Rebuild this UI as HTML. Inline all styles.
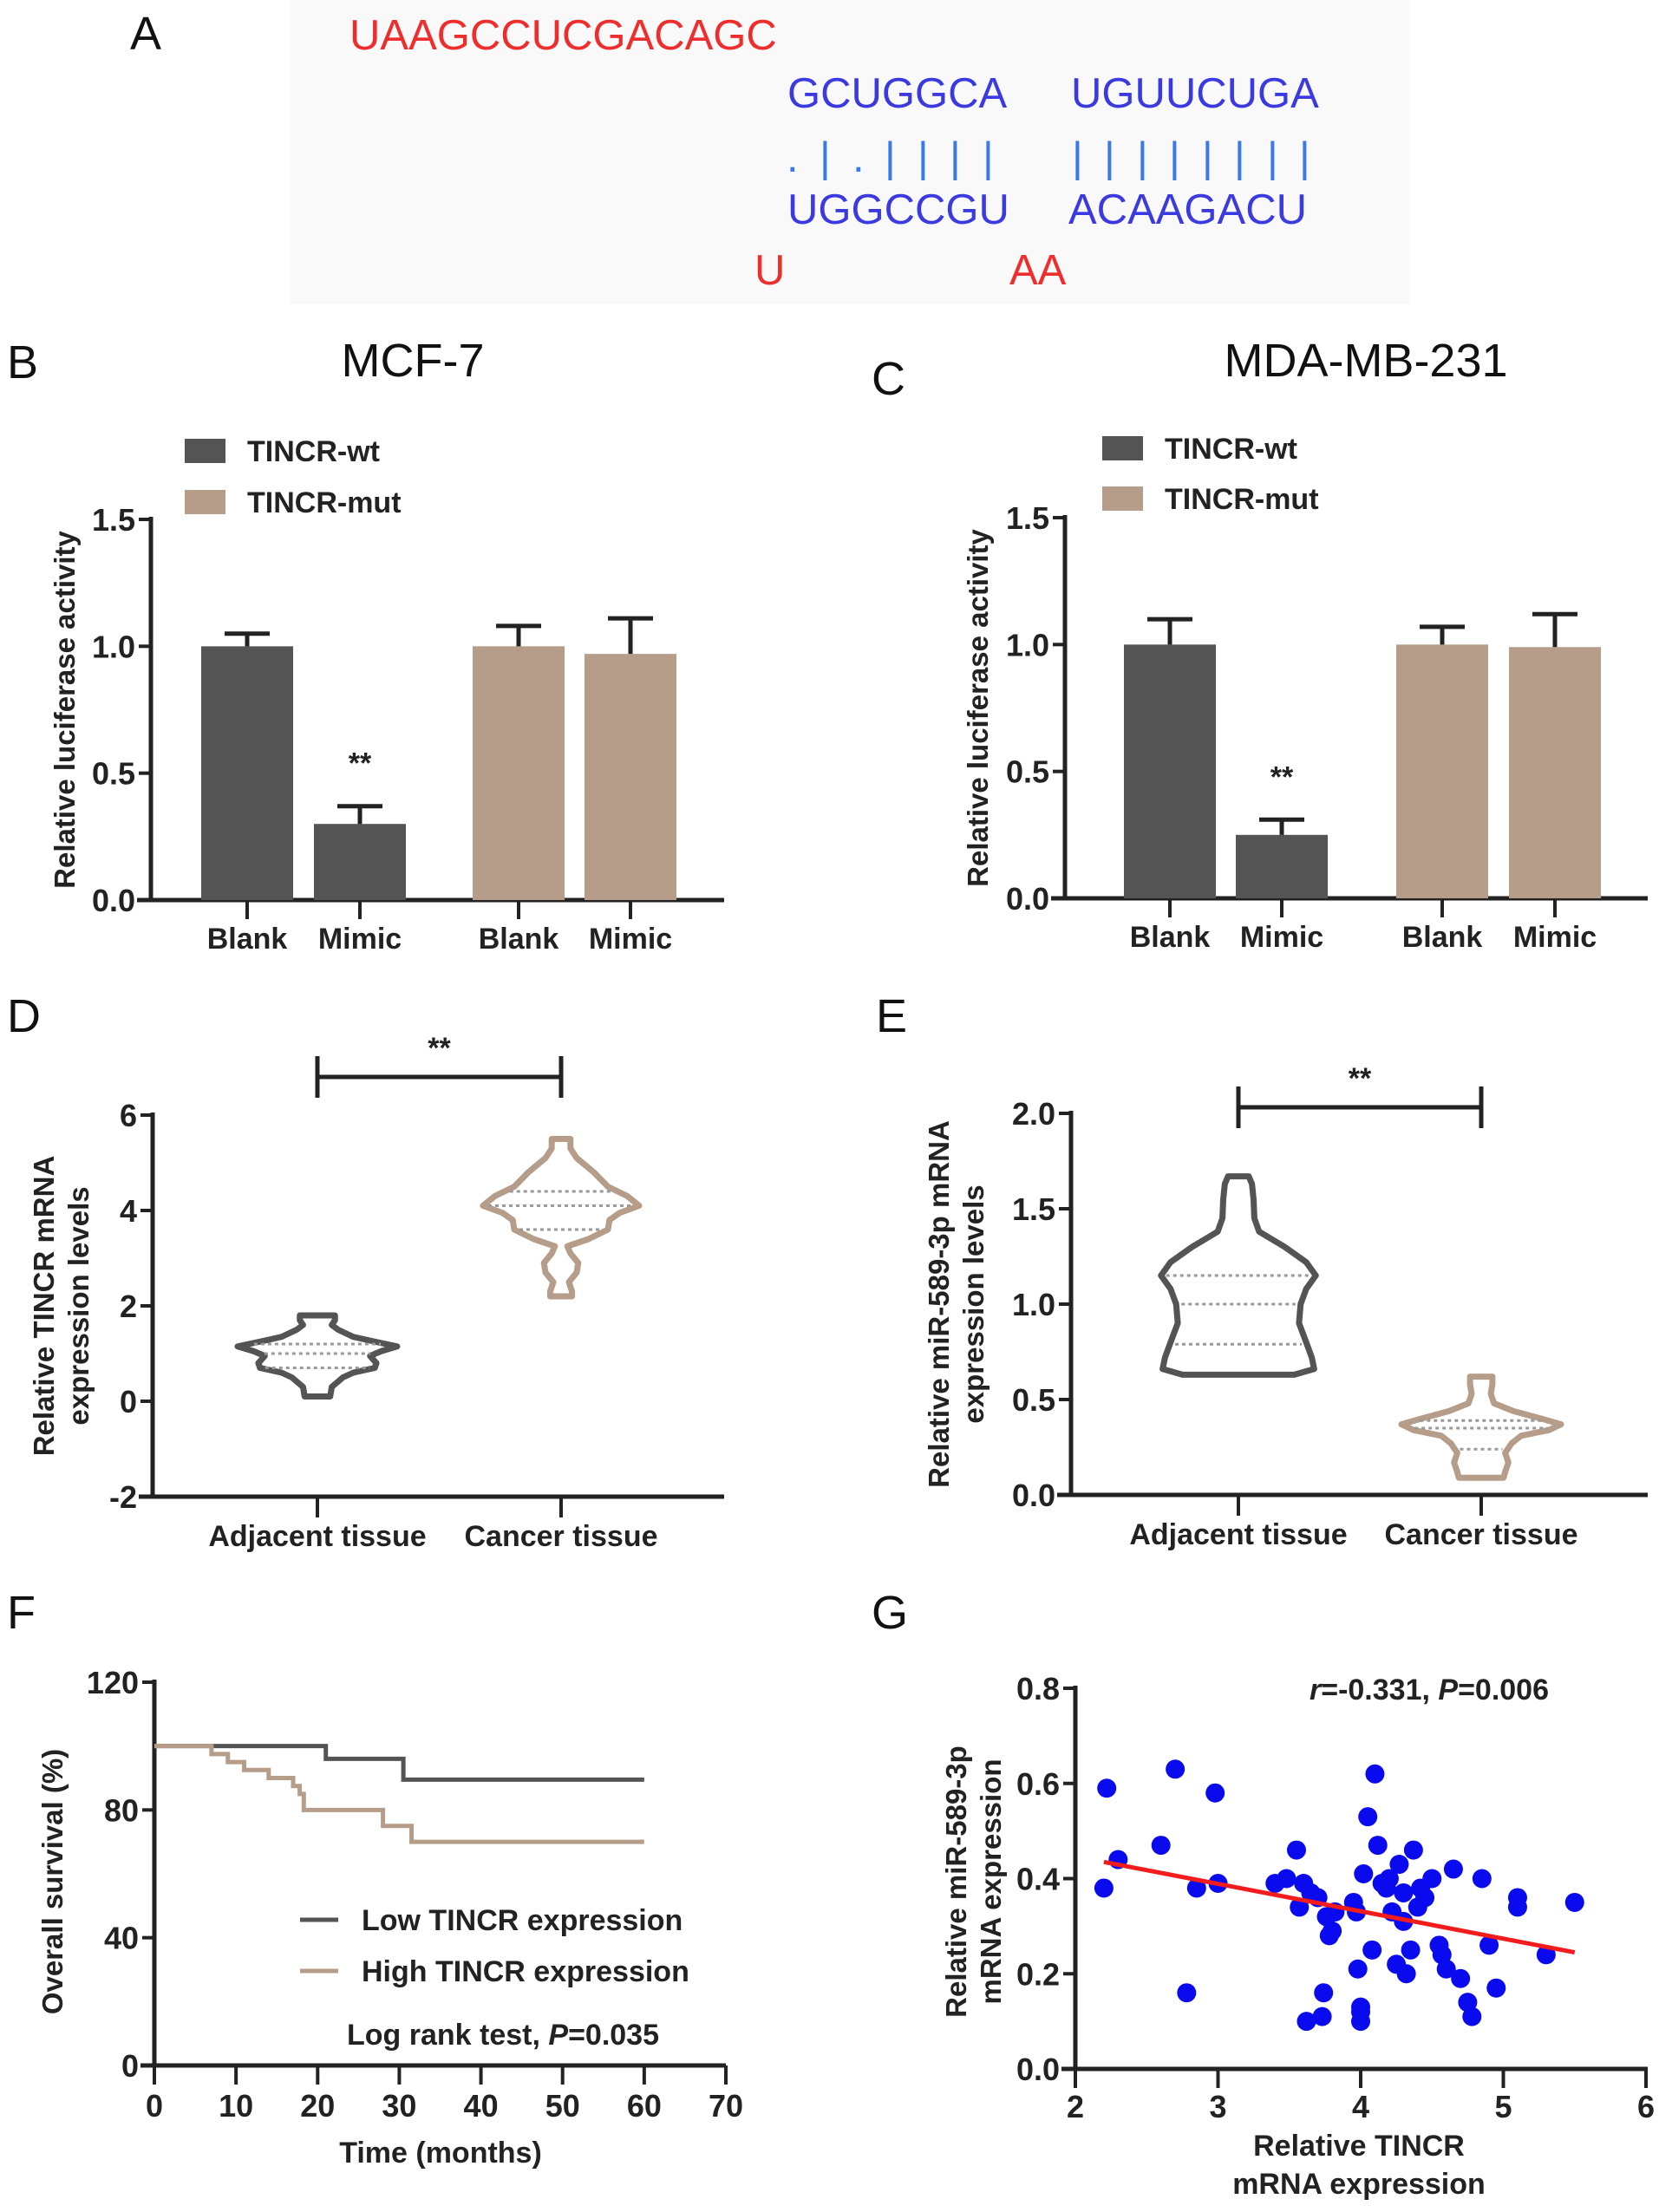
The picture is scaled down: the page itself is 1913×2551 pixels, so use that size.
<!DOCTYPE html>
<html><head><meta charset="utf-8">
<style>
html,body{margin:0;padding:0;background:#fff;}
svg{display:block;font-family:"Liberation Sans Narrow","Liberation Sans",sans-serif;}
.seq{font-family:"Liberation Sans",sans-serif;font-size:49px;}
.panel{font-family:"Liberation Sans",sans-serif;font-size:54px;fill:#111;}
.tick{font-size:36px;font-weight:bold;fill:#222;}
.ttl{font-family:"Liberation Sans",sans-serif;font-size:33px;font-weight:bold;fill:#222;}
.lbl{font-size:34px;font-weight:bold;fill:#222;}
</style></head>
<body>
<svg id="fig" width="1913" height="2551" viewBox="0 0 1913 2551" xmlns="http://www.w3.org/2000/svg">
<rect x="335" y="0" width="1290" height="351" fill="#f9f9f9"/>
<text class="panel" x="150" y="57">A</text>
<text class="seq" x="403" y="57" fill="#ee2d2d">UAAGCCUCGACAGC</text>
<text class="seq" x="908" y="124" fill="#3a3ae0">GCUGGCA</text>
<text class="seq" x="1235" y="124" fill="#3a3ae0">UGUUCUGA</text>
<text class="seq" x="907 945 983 1020 1058 1095 1133" y="198" fill="#3a7ae8">.|.||||</text>
<text class="seq" x="1236 1273 1311 1348 1386 1423 1461 1498" y="198" fill="#3a7ae8">||||||||</text>
<text class="seq" x="908" y="258" fill="#3a3ae0">UGGCCGU</text>
<text class="seq" x="1232" y="258" fill="#3a3ae0">ACAAGACU</text>
<text class="seq" x="870" y="328" fill="#ee2d2d">U</text>
<text class="seq" x="1164" y="328" fill="#ee2d2d">AA</text>

<text class="panel" x="8" y="436">B</text>
<text class="panel" x="476" y="434" font-size="46" text-anchor="middle">MCF-7</text>
<text class="panel" x="1005" y="455">C</text>
<text class="panel" x="1575" y="434" font-size="46" text-anchor="middle">MDA-MB-231</text>
<text class="panel" x="8" y="1190">D</text>
<text class="panel" x="1010" y="1190">E</text>
<text class="panel" x="8" y="1878">F</text>
<text class="panel" x="1005" y="1878">G</text>
<g id="charts"></g>
</svg>
<script>
// ---------- data ----------
const barCats = ["Blank","Mimic","Blank","Mimic"];
const barB = [1.0, 0.30, 1.0, 0.97];
const errB = [0.05, 0.07, 0.08, 0.14];
const barC = [1.0, 0.25, 1.0, 0.99];
const errC = [0.10, 0.06, 0.07, 0.13];
const barTicks = [0, 0.5, 1.0, 1.5];
const barTickLabels = ["0.0","0.5","1.0","1.5"];

const violinCats = ["Adjacent tissue","Cancer tissue"];
const dTicks = [-2,0,2,4,6];
const dAdjVals = [0.1,0.3,0.5,0.6,0.7,0.8,0.95,1.05,1.15,1.25,1.35,1.5,1.6,1.7,1.8];
const dAdjDens = [0.16,0.18,0.32,0.45,0.72,0.74,0.66,0.8,1.0,0.72,0.45,0.26,0.18,0.22,0.22];
const dAdjQ = [0.7,1.0,1.2];
const dCanVals = [2.2,2.3,2.5,2.7,2.9,3.1,3.25,3.4,3.6,3.8,3.95,4.1,4.3,4.5,4.8,5.1,5.3,5.5];
const dCanDens = [0.14,0.14,0.1,0.2,0.22,0.12,0.08,0.35,0.6,0.62,0.75,1.0,0.85,0.6,0.42,0.2,0.12,0.12];
const dCanQ = [3.6,4.1,4.4];
const eTicks = [0,0.5,1.0,1.5,2.0];
const eTickLabels = ["0.0","0.5","1.0","1.5","2.0"];
const eAdjVals = [0.63,0.66,0.72,0.8,0.9,1.0,1.08,1.15,1.22,1.3,1.38,1.45,1.55,1.63,1.67];
const eAdjDens = [0.7,0.95,0.92,0.85,0.76,0.78,0.85,0.97,0.85,0.58,0.26,0.2,0.19,0.17,0.13];
const eAdjQ = [0.79,1.0,1.15];
const eCanVals = [0.09,0.12,0.17,0.22,0.27,0.31,0.34,0.37,0.40,0.44,0.48,0.53,0.58,0.62];
const eCanDens = [0.28,0.3,0.34,0.3,0.38,0.5,0.85,1.0,0.75,0.4,0.16,0.12,0.14,0.14];
const eCanQ = [0.24,0.35,0.39];

const kmTicksY = [0,40,80,120];
const kmTicksX = [0,10,20,30,40,50,60,70];
const lowT = [0,21,30.5,60];
const lowS = [100,96,89.5,89.5];
const highT = [0,7,9,11,14,17,17.8,18.3,28,31.5,60];
const highS = [100,97.5,95,92.5,90,87.5,85,80,75,70,70];

const scTicksY = [0,0.2,0.4,0.6,0.8];
const scTickLabelsY = ["0.0","0.2","0.4","0.6","0.8"];
const scTicksX = [2,3,4,5,6];
const scX = [2.2,2.22,2.3,2.6,2.7,2.78,2.85,2.98,3.0,3.4,3.48,3.55,3.57,3.6,3.62,3.65,3.7,3.73,3.74,3.76,3.78,3.8,3.82,3.95,3.97,3.98,4.0,4.0,4.0,4.02,4.05,4.1,4.12,4.08,4.15,4.18,4.2,4.22,4.25,4.27,4.3,4.3,4.32,4.35,4.37,4.4,4.42,4.45,4.5,4.55,4.57,4.6,4.65,4.7,4.75,4.78,4.85,4.9,4.95,5.1,5.1,5.3,5.5];
const scY = [0.38,0.59,0.44,0.47,0.63,0.16,0.38,0.58,0.39,0.39,0.40,0.46,0.34,0.39,0.10,0.37,0.36,0.11,0.16,0.32,0.28,0.29,0.33,0.35,0.33,0.21,0.13,0.10,0.12,0.41,0.53,0.62,0.47,0.25,0.39,0.38,0.40,0.33,0.22,0.43,0.37,0.31,0.20,0.25,0.46,0.34,0.38,0.36,0.40,0.26,0.24,0.21,0.42,0.19,0.14,0.11,0.40,0.26,0.17,0.36,0.34,0.24,0.35];
const fitX = [2.2,5.5];
const fitY = [0.435,0.245];

// ---------- helpers ----------
const NS="http://www.w3.org/2000/svg";
const root=document.getElementById('charts');
function mk(tag, attrs, parent){const e=document.createElementNS(NS,tag);for(const k in attrs)e.setAttribute(k,attrs[k]);(parent||root).appendChild(e);return e;}
function lin(d0,d1,r0,r1){return v=>r0+(v-d0)*(r1-r0)/(d1-d0);}
const INK="#222", DARK="#545454", TAN="#b59d89";

function yAxis(x,y,ticks,labels,yTop,yBot,name){
  let el=mk('line',{x1:x,y1:yTop-3,x2:x,y2:yBot,stroke:INK,'stroke-width':5});
  
  
  ticks.forEach((t,i)=>{
    let tk=mk('line',{x1:x-14,y1:y(t),x2:x,y2:y(t),stroke:INK,'stroke-width':4});
    
    
    let tl=mk('text',{x:x-18,y:y(t)+13,'text-anchor':'end',class:'tick'});
    tl.textContent=labels?labels[i]:String(t);
    
    
  });
}
function xAxis(x0,x1,y0,name){
  let el=mk('line',{x1:x0-16,y1:y0,x2:x1,y2:y0,stroke:INK,'stroke-width':5});
  
  
}
function rotText(x,y,lines,name){
  lines.forEach((s,i)=>{
    let t=mk('text',{x:0,y:0,class:'ttl','text-anchor':'middle',transform:`translate(${x+i*40},${y}) rotate(-90)`});
    t.textContent=s;
    
    
  });
}

// ---------- bar charts ----------
function barChart(o){
  const y=lin(0,1.5,o.y0,o.y15);
  yAxis(o.ax,y,barTicks,barTickLabels,o.y15,o.y0,o.name);
  xAxis(o.ax,o.axEnd,o.y0,o.name);
  o.vals.forEach((v,i)=>{
    const cx=o.cx[i], col=i<2?DARK:TAN;
    let b=mk('rect',{x:cx-o.bw/2,y:y(v),width:o.bw,height:o.y0-y(v),fill:col});
    
    
    let e=mk('path',{d:`M${cx} ${y(v)} V${y(v+o.err[i])} M${cx-26} ${y(v+o.err[i])} H${cx+26}`,stroke:INK,'stroke-width':5,fill:'none'});
    
    
    let tk=mk('line',{x1:cx,y1:o.y0,x2:cx,y2:o.y0+22,stroke:INK,'stroke-width':4});
    
    
    let l=mk('text',{x:cx,y:o.y0+56,'text-anchor':'middle',class:'lbl'});
    l.textContent=barCats[i];
    
    
  });
  let s=mk('text',{x:o.cx[1],y:y(o.vals[1]+o.err[1])-38,'text-anchor':'middle',class:'lbl','font-size':30});
  s.textContent='**';
  
  
  [["TINCR-wt",DARK,o.lg[1]],["TINCR-mut",TAN,o.lg[2]]].forEach(([t,c,ly])=>{
    let r=mk('rect',{x:o.lg[0],y:ly-14,width:47,height:28,fill:c});
    
    
    let tt=mk('text',{x:o.lg[0]+72,y:ly+12,class:'lbl'});
    tt.textContent=t;
    
    
  });
  rotText(o.ytx,(o.y0+o.y15)/2,["Relative luciferase activity"],o.name+'-y-axis-title');
}
barChart({name:'chart-b',ax:174,axEnd:835,y0:1038,y15:599,cx:[285,415,598,727],bw:106,vals:barB,err:errB,lg:[213,520,579],ytx:86});
barChart({name:'chart-c',ax:1228,axEnd:1900,y0:1036,y15:597,cx:[1349,1478,1663,1793],bw:106,vals:barC,err:errC,lg:[1271,517,575],ytx:1139});

// ---------- violins ----------
function violin(cx,y,vals,dens,maxW,q,col,name){
  let L=[],R=[];
  vals.forEach((v,i)=>{R.push(`${cx+dens[i]*maxW},${y(v)}`);L.unshift(`${cx-dens[i]*maxW},${y(v)}`);});
  let p=mk('polygon',{points:R.concat(L).join(' '),fill:'none',stroke:col,'stroke-width':7,'stroke-linejoin':'round'});
  
  
  q.forEach(qv=>{
    let k=0;while(k<vals.length-2&&vals[k+1]<qv)k++;
    const t=(qv-vals[k])/(vals[k+1]-vals[k]);const w=(dens[k]+(dens[k+1]-dens[k])*t)*maxW-6;
    let l=mk('line',{x1:cx-w,y1:y(qv),x2:cx+w,y2:y(qv),stroke:'#999','stroke-width':3,'stroke-dasharray':'4 4'});
    
    
  });
}
function violinChart(o){
  const y=lin(o.d0,o.d1,o.y0,o.y1);
  yAxis(o.ax,y,o.ticks,o.labels,o.y1,o.y0,o.name);
  xAxis(o.ax,o.axEnd,o.y0,o.name);
  o.cx.forEach((cx,i)=>{
    let tk=mk('line',{x1:cx,y1:o.y0,x2:cx,y2:o.y0+24,stroke:INK,'stroke-width':4});
    
    
    let l=mk('text',{x:cx,y:o.y0+57,'text-anchor':'middle',class:'lbl','font-size':36});
    l.textContent=violinCats[i];
    
    
  });
  violin(o.cx[0],y,o.a[0],o.a[1],o.maxW[0],o.a[2],DARK,o.name+'-violin-adjacent');
  violin(o.cx[1],y,o.c[0],o.c[1],o.maxW[1],o.c[2],TAN,o.name+'-violin-cancer');
  let br=mk('path',{d:`M${o.cx[0]} ${o.br-24} V${o.br+24} M${o.cx[0]} ${o.br} H${o.cx[1]} M${o.cx[1]} ${o.br-24} V${o.br+24}`,stroke:INK,'stroke-width':5,fill:'none'});
  
  
  let s=mk('text',{x:(o.cx[0]+o.cx[1])/2,y:o.br-22,'text-anchor':'middle',class:'lbl','font-size':30});
  s.textContent='**';
  
  
  rotText(o.ytx,(o.y0+o.y1)/2,o.ytitle,o.name+'-y-axis-title');
}
violinChart({name:'chart-d',ax:176,axEnd:835,d0:-2,d1:6,y0:1726,y1:1286,ticks:dTicks,labels:null,cx:[366,647],
  a:[dAdjVals,dAdjDens,dAdjQ],c:[dCanVals,dCanDens,dCanQ],maxW:[92,90],br:1242,ytx:62,ytitle:["Relative TINCR mRNA","expression levels"]});
violinChart({name:'chart-e',ax:1235,axEnd:1900,d0:0,d1:2,y0:1724,y1:1284,ticks:eTicks,labels:eTickLabels,cx:[1428,1708],
  a:[eAdjVals,eAdjDens,eAdjQ],c:[eCanVals,eCanDens,eCanQ],maxW:[92,92],br:1277,ytx:1094,ytitle:["Relative miR-589-3p mRNA","expression levels"]});

// ---------- KM ----------
(function(){
  const x=lin(0,70,178,837), y=lin(0,120,2382,1940);
  yAxis(178,y,kmTicksY,null,1940,2382,'chart-f');
  xAxis(178,837,2382,'chart-f');
  kmTicksX.forEach(t=>{
    let tk=mk('line',{x1:x(t),y1:2382,x2:x(t),y2:2404,stroke:INK,'stroke-width':4});
    
    
    let l=mk('text',{x:x(t),y:2441,'text-anchor':'middle',class:'tick'});
    l.textContent=String(t);
    
    
  });
  function step(T,S,col,name){
    let d=`M${x(T[0])} ${y(S[0])}`;
    for(let i=1;i<T.length;i++){d+=` H${x(T[i])} V${y(S[i])}`;}
    let p=mk('path',{d:d,fill:'none',stroke:col,'stroke-width':5});
    
    
  }
  step(lowT,lowS,DARK,'km-curve-low');
  step(highT,highS,TAN,'km-curve-high');
  [["Low TINCR expression",DARK,2214],["High TINCR expression",TAN,2273]].forEach(([t,c,ly])=>{
    let l=mk('line',{x1:346,y1:ly,x2:390,y2:ly,stroke:c,'stroke-width':5});
    
    
    let tt=mk('text',{x:417,y:ly+12,class:'lbl','font-size':34});
    tt.textContent=t;
    
    
  });
  let lr=mk('text',{x:400,y:2358,class:'lbl','font-size':34});
  lr.innerHTML='Log rank test, <tspan font-style="italic">P</tspan>=0.035';
  
  
  let xt=mk('text',{x:508,y:2494,'text-anchor':'middle',class:'lbl','font-size':36});
  xt.textContent='Time (months)';
  
  
  rotText(72,2170,["Overall  survival (%)"],'chart-f-y-axis-title');
})();

// ---------- scatter ----------
(function(){
  const x=lin(2,6,1240,1898), y=lin(0,0.8,2386,1947);
  yAxis(1240,y,scTicksY,scTickLabelsY,1947,2386,'chart-g');
  xAxis(1240,1900,2386,'chart-g');
  scTicksX.forEach(t=>{
    let tk=mk('line',{x1:x(t),y1:2386,x2:x(t),y2:2408,stroke:INK,'stroke-width':4});
    
    
    let l=mk('text',{x:x(t),y:2442,'text-anchor':'middle',class:'tick'});
    l.textContent=String(t);
    
    
  });
  scX.forEach((v,i)=>{
    let c=mk('circle',{cx:x(v),cy:y(scY[i]),r:11,fill:'#0a0aef'});
    
    
  });
  let f=mk('line',{x1:x(fitX[0]),y1:y(fitY[0]),x2:x(fitX[1]),y2:y(fitY[1]),stroke:'#f21c1c','stroke-width':5});
  
  
  let a=mk('text',{x:1648,y:1960,'text-anchor':'middle',class:'lbl','font-size':34});
  a.innerHTML='<tspan font-style="italic">r</tspan>=-0.331, <tspan font-style="italic">P</tspan>=0.006';
  
  
  [["Relative TINCR",2486],["mRNA expression",2530]].forEach(([t,ly])=>{
    let xt=mk('text',{x:1567,y:ly,'text-anchor':'middle',class:'lbl','font-size':36});
    xt.textContent=t;
    
    
  });
  rotText(1114,2170,["Relative miR-589-3p","mRNA expression"],'chart-g-y-axis-title');
})();
</script>
</body></html>
